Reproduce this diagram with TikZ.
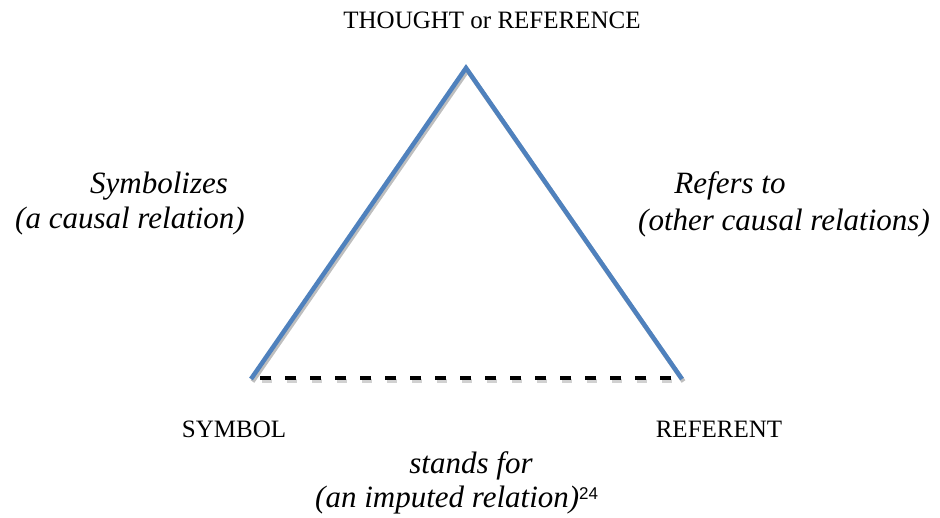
\documentclass[tikz,border=0pt]{standalone}
\usepackage{fontspec}
\setmainfont{Liberation Serif}
\newfontfamily\notefont{Liberation Sans}
\definecolor{sideblue}{RGB}{79,129,189}
\definecolor{shadowgray}{RGB}{190,190,190}
\tikzset{
  side/.style={draw=sideblue, line width=4.5pt, line cap=butt},
  sideshadow/.style={draw=shadowgray, line width=4.5pt},
  imputed/.style={draw=black, line width=4pt, dash pattern=on 10.7pt off 14.3pt},
  corner/.style={font=\fontsize{25}{30}\selectfont, anchor=base, inner sep=0pt},
  relation/.style={font=\fontsize{31}{35}\selectfont\itshape, anchor=base, inner sep=0pt}
}
\begin{document}
\begin{tikzpicture}[x=1pt, y=-1pt]
            \useasboundingbox (0,0) rectangle (940,517);

            % Vertici del triangolo
            \coordinate (apex) at (466,68);
            \coordinate (sym) at (251,379);
            \coordinate (ref) at (682,379);
            \coordinate (dashL) at (260,378);
            \coordinate (dashR) at (671,378);

            % Ombre
            \begin{scope}[transform canvas={shift={(1.5,2.5)}}]
              \draw[sideshadow] (sym) -- (apex) -- (ref);
              \draw[imputed, draw=shadowgray!70] (dashL) -- (dashR);
            \end{scope}

            % Lati
            \draw[side, line join=miter] (sym) -- (apex) -- (ref);
            \draw[imputed] (dashL) -- (dashR);

            % Etichette dei vertici
            \node[corner] (thought) at (492,28) {THOUGHT or REFERENCE};
            \node[corner] (symbol) at (234,437) {SYMBOL};
            \node[corner] (referent) at (719,437) {REFERENT};

            % Relazioni
            \node[relation] (symb1) at (159,193) {Symbolizes};
            \node[relation] (symb2) at (130,228) {(a causal relation)};
            \node[relation] (refer1) at (730,193) {Refers to};
            \node[relation] (refer2) at (784,230) {(other causal relations)};
            \node[relation] (stand1) at (471,473) {stands for};
            \node[relation, anchor=base west] (stand2) at (315,507)
              {(an imputed relation)\raisebox{8pt}{\notefont\upshape\fontsize{17}{20}\selectfont 24}};
        \end{tikzpicture}
\end{document}
